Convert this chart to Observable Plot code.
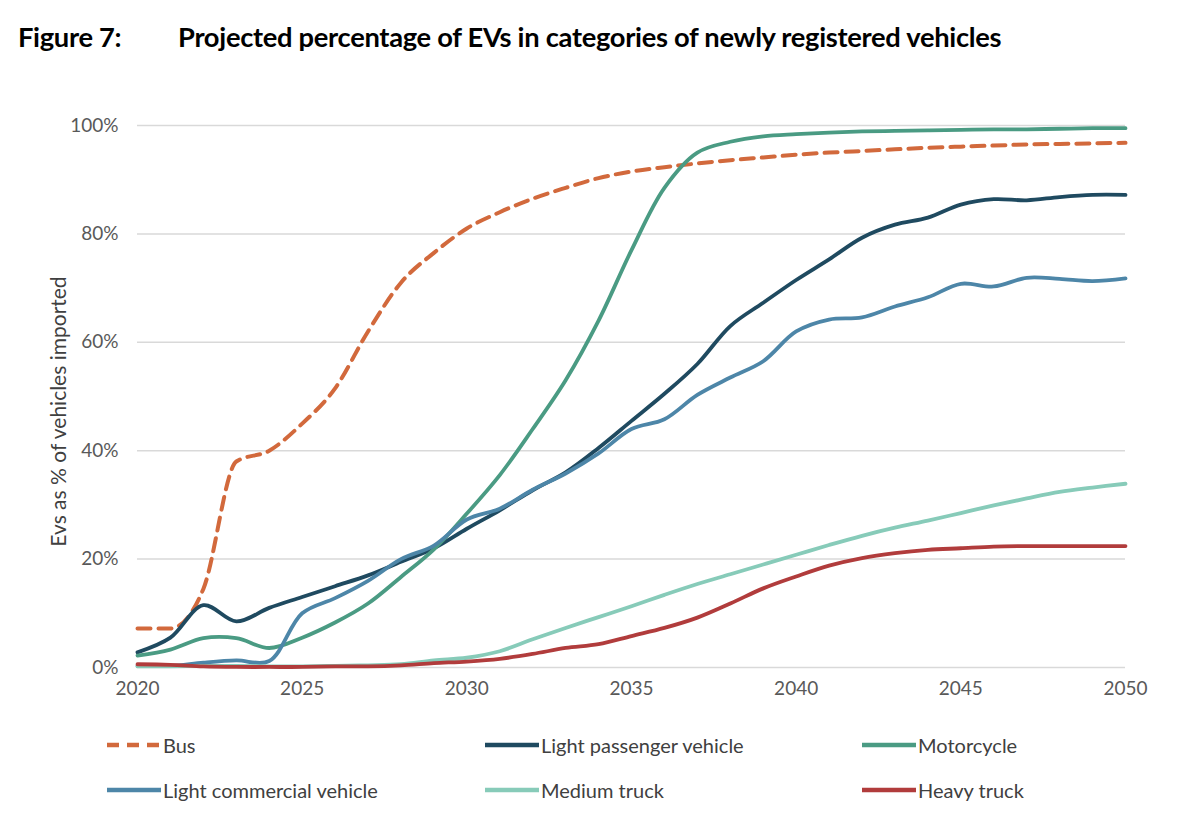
<!DOCTYPE html>
<html><head><meta charset="utf-8">
<script src="https://cdn.jsdelivr.net/npm/d3@7"></script>
<script src="https://cdn.jsdelivr.net/npm/@observablehq/plot@0.6"></script>
<style>
body{margin:0;background:#fff;font-family:Lato,"Open Sans",sans-serif;}
#wrap{position:relative;width:1200px;height:830px;overflow:hidden;}
.title{position:absolute;top:20px;font-weight:bold;font-size:27.3px;color:#000;white-space:nowrap;letter-spacing:-0.3px;}
#chart{position:absolute;left:0;top:80px;}
.leg{position:absolute;display:flex;align-items:center;font-size:20px;color:#404040;white-space:nowrap;transform:translateY(-50%);}
.leg svg{margin-right:2px;}
</style></head><body>
<div id="wrap">
  <div class="title" style="left:18px">Figure 7:</div>
  <div class="title" style="left:178px">Projected percentage of EVs in categories of newly registered vehicles</div>
  <div id="chart"></div>
  <div id="legend"></div>
</div>
<script>
const years = [2020,2021,2022,2023,2024,2025,2026,2027,2028,2029,2030,2031,2032,2033,2034,2035,2036,2037,2038,2039,2040,2041,2042,2043,2044,2045,2046,2047,2048,2049,2050];
const seriesNames = ["Bus","Light passenger vehicle","Motorcycle","Light commercial vehicle","Medium truck","Heavy truck"];
const bus    = [7.2,7.2,14.5,38,40,45,51.5,62,71,76.5,81,84,86.5,88.5,90.3,91.5,92.3,93,93.6,94.1,94.6,95,95.3,95.6,95.9,96.1,96.3,96.5,96.6,96.7,96.8];
const lpv    = [2.8,5.5,11.5,8.5,11,13,15,17,19.5,22,25.6,29,32.7,36,40.5,45.5,50.5,56,63,67.3,71.5,75.3,79.3,81.7,83,85.4,86.4,86.2,86.8,87.2,87.2];
const moto   = [2.2,3.3,5.4,5.4,3.6,5.5,8.3,11.8,16.7,21.8,28.4,35.5,44,53,64,77,88.5,95,97,98,98.4,98.7,98.9,99,99.1,99.2,99.3,99.3,99.4,99.5,99.5];
const lcv    = [0.3,0.3,0.9,1.3,1.2,10,12.8,16,20,22.5,27.3,29.3,32.8,35.8,39.5,44,45.8,50.3,53.5,56.5,62,64.2,64.6,66.6,68.3,70.8,70.3,71.9,71.7,71.3,71.8];
const medium = [0.2,0.2,0.3,0.3,0.2,0.2,0.3,0.4,0.6,1.3,1.8,3.0,5.2,7.3,9.3,11.3,13.4,15.4,17.2,19.0,20.8,22.6,24.3,25.8,27.1,28.5,29.9,31.2,32.4,33.2,33.9];
const heavy  = [0.6,0.5,0.2,0.1,0.1,0.1,0.2,0.2,0.4,0.8,1.1,1.6,2.5,3.6,4.3,5.8,7.3,9.2,11.8,14.6,16.8,18.8,20.2,21.1,21.7,22.0,22.3,22.4,22.4,22.4,22.4];
const xTicks = [2020,2025,2030,2035,2040,2045,2050];
const yTicks = [0,20,40,60,80,100];
const yLabel = "Evs as % of vehicles imported";
const colors = ["#d2693c","#1f4a60","#4a9b83","#4d86a8","#87cbb9","#b13c3c"];

const values = [bus,lpv,moto,lcv,medium,heavy];
const rows = [];
values.forEach((arr,i)=>arr.forEach((v,j)=>rows.push({series:seriesNames[i], year:years[j], value:v})));
const solid = rows.filter(d=>d.series!=="Bus");
const dashed = rows.filter(d=>d.series==="Bus");

const chart = Plot.plot({
  width:1200, height:650,
  marginLeft:137, marginRight:75, marginTop:45, marginBottom:63,
  style:{fontFamily:"Lato, 'Open Sans', sans-serif", background:"#fff"},
  x:{domain:[2020,2050], ticks:xTicks, tickFormat:d=>String(d), label:null},
  y:{domain:[0,100], ticks:yTicks, tickFormat:d=>d+"%", label:null},
  color:{domain:seriesNames, range:colors},
  marks:[
    Plot.gridY(yTicks,{stroke:"#d9d9d9", strokeOpacity:1, strokeWidth:1.5}),
    Plot.axisX({ticks:xTicks, tickSize:0, tickPadding:14, fontSize:19, fill:"#595959", tickFormat:d=>String(d), label:null}),
    Plot.axisY({ticks:yTicks, tickSize:0, tickPadding:19, fontSize:19, fill:"#595959", tickFormat:d=>d+"%", label:yLabel, labelAnchor:"center", labelOffset:86, labelArrow:"none"}),
    Plot.line(dashed,{x:"year", y:"value", stroke:"series", strokeWidth:4, strokeDasharray:"13,8", curve:"monotone-x"}),
    Plot.line(solid,{x:"year", y:"value", z:"series", stroke:"series", strokeWidth:3.8, curve:"catmull-rom", strokeLinejoin:"round"})
  ]
});
document.getElementById("chart").appendChild(chart);
// style and nudge the y label
chart.querySelectorAll("g[aria-label='y-axis label']").forEach(g=>{
  const tr = g.getAttribute("transform") || "";
  g.setAttribute("transform", (tr + " translate(0,15)").trim());
  g.querySelectorAll("text").forEach(t=>{t.setAttribute("font-size","21");t.setAttribute("fill","#404040");});
});

const legendPos = [[107,745],[485,745],[862,745],[107,790],[485,790],[862,790]];
const legend = document.getElementById("legend");
seriesNames.forEach((name,i)=>{
  const div = document.createElement("div");
  div.className="leg";
  div.style.left = legendPos[i][0]+"px";
  div.style.top = legendPos[i][1]+"px";
  const dash = name==="Bus" ? 'stroke-dasharray="12,8"' : '';
  div.innerHTML = `<svg width="54" height="10"><line x1="0" y1="5" x2="54" y2="5" stroke="${colors[i]}" stroke-width="4.5" ${dash}/></svg><span>${name}</span>`;
  legend.appendChild(div);
});
</script>
</body></html>
